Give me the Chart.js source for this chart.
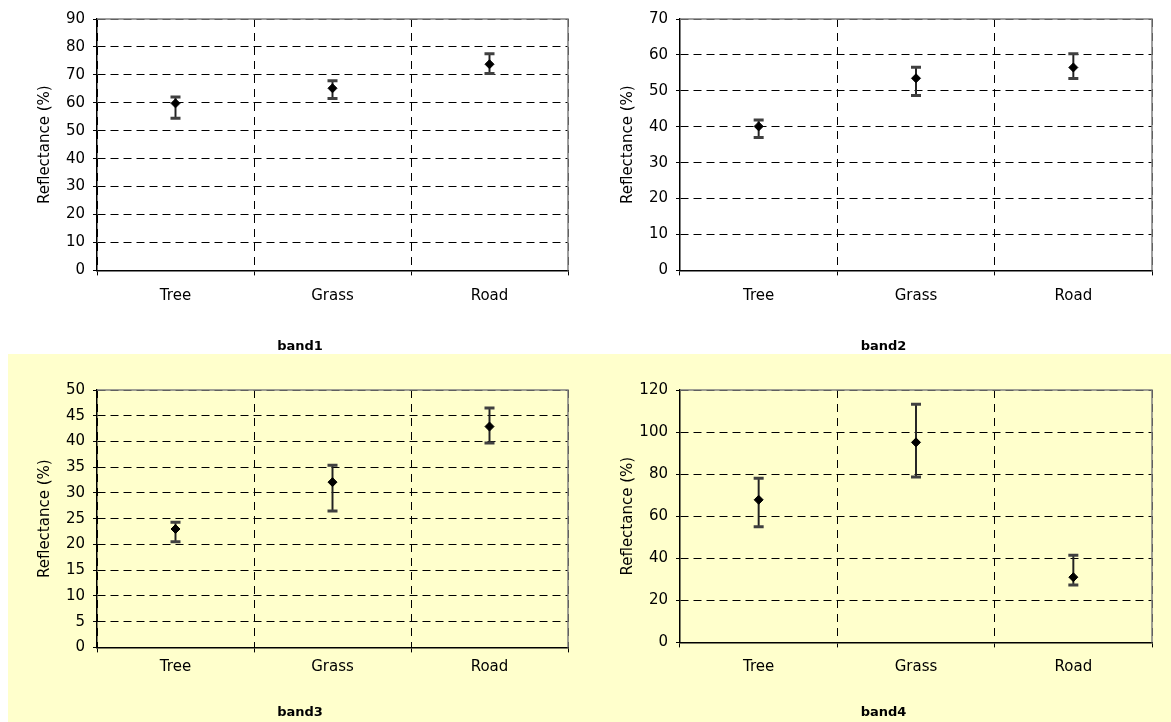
<!DOCTYPE html>
<html lang="en">
<head>
<meta charset="UTF-8">
<title>Reflectance by band</title>
<script src="https://cdn.jsdelivr.net/npm/chart.js"></script>
<style>
  * { box-sizing: border-box; margin: 0; padding: 0; }
  body { width: 1171px; height: 722px; background: #fff; position: relative; overflow: hidden; }
  .yellow { position: absolute; left: 8px; top: 354px; width: 1163px; height: 368px; background: #ffffcc; }
  canvas { position: absolute; }
</style>
</head>
<body>
<div class="yellow"></div>
<canvas id="c1" width="600" height="354" style="left:0;top:0"></canvas>
<canvas id="c2" width="579" height="354" style="left:592px;top:0"></canvas>
<canvas id="c3" width="584" height="368" style="left:8px;top:354px"></canvas>
<canvas id="c4" width="579" height="368" style="left:592px;top:354px"></canvas>
<script>
// data (mean, upper and lower error bar ends)
const categories = ['Tree', 'Grass', 'Road'];
const bandTitles = ['band1', 'band2', 'band3', 'band4'];
const yMax = [90, 70, 50, 120];
const yStep = [10, 10, 5, 20];

const band1Mean = [59.8, 65.2, 73.8];
const band1Upper = [62.1, 67.9, 77.6];
const band1Lower = [54.5, 61.5, 70.5];

const band2Mean = [40.1, 53.5, 56.5];
const band2Upper = [41.9, 56.6, 60.3];
const band2Lower = [37.0, 48.7, 53.4];

const band3Mean = [23.0, 32.1, 42.9];
const band3Upper = [24.3, 35.4, 46.5];
const band3Lower = [20.5, 26.5, 39.7];

const band4Mean = [67.8, 95.1, 31.0];
const band4Upper = [78.0, 113.2, 41.4];
const band4Lower = [55.0, 78.6, 27.3];

const means = [band1Mean, band2Mean, band3Mean, band4Mean];
const uppers = [band1Upper, band2Upper, band3Upper, band4Upper];
const lowers = [band1Lower, band2Lower, band3Lower, band4Lower];

// per-panel layout (canvas local px)
const panels = [
  { id: 'c1', pad: { left: 32, right: 32, top: 19, bottom: 0 }, xH: 50, tickPad: 12, titlePad: { top: 18, bottom: 0 } },
  { id: 'c2', pad: { left: 23, right: 19, top: 19, bottom: 0 }, xH: 50, tickPad: 12, titlePad: { top: 18, bottom: 0 } },
  { id: 'c3', pad: { left: 24, right: 24, top: 36, bottom: 2 }, xH: 45, tickPad: 6, titlePad: { top: 12, bottom: 0 } },
  { id: 'c4', pad: { left: 23, right: 19, top: 36, bottom: 2 }, xH: 50, tickPad: 11, titlePad: { top: 12, bottom: 0 } }
];

const FONT = 'DejaVu Sans';

// grey top/right frame of the plot area
const frame = {
  id: 'frame',
  beforeDatasetsDraw(chart) {
    const { ctx, chartArea: a } = chart;
    ctx.save();
    ctx.strokeStyle = '#808080';
    ctx.lineWidth = 1.5;
    ctx.beginPath();
    ctx.moveTo(a.left, a.top);
    ctx.lineTo(a.right, a.top);
    ctx.lineTo(a.right, a.bottom);
    ctx.stroke();
    ctx.restore();
  }
};

panels.forEach((p, i) => {
  const ranges = lowers[i].map((lo, k) => [lo, uppers[i][k]]);
  new Chart(document.getElementById(p.id), {
    type: 'bar',
    data: {
      labels: categories,
      datasets: [
        { type: 'bar', data: ranges, backgroundColor: '#222', borderWidth: 0, barThickness: 1.3, order: 3 },
        { type: 'line', data: uppers[i], showLine: false, pointStyle: 'line', pointRadius: 5, pointBorderWidth: 3, borderColor: '#404040', order: 2 },
        { type: 'line', data: lowers[i], showLine: false, pointStyle: 'line', pointRadius: 5, pointBorderWidth: 3, borderColor: '#404040', order: 2 },
        { type: 'line', data: means[i], showLine: false, pointStyle: 'rectRot', pointRadius: 4.5, pointBorderWidth: 1, backgroundColor: '#000', borderColor: '#000', order: 1 }
      ]
    },
    options: {
      responsive: false,
      animation: false,
      layout: { padding: p.pad },
      plugins: {
        legend: { display: false },
        tooltip: { enabled: false },
        title: {
          display: true, text: bandTitles[i], position: 'bottom', color: '#000',
          font: { family: FONT, size: 13, weight: 'bold' }, padding: p.titlePad
        }
      },
      scales: {
        x: {
          offset: true,
          afterFit: s => { s.height = p.xH; },
          grid: { offset: true, color: '#000', lineWidth: 1, tickLength: 5, tickColor: '#000', tickBorderDash: [] },
          border: { color: '#000', width: 1.5, dash: [8, 6] },
          ticks: { color: '#000', padding: p.tickPad, font: { family: FONT, size: 15 } }
        },
        y: {
          min: 0, max: yMax[i],
          afterFit: s => { s.width = 65; },
          grid: { color: '#000', lineWidth: 1, tickLength: 4, tickColor: '#000', tickBorderDash: [] },
          border: { color: '#000', width: 1.5, dash: [8, 5] },
          ticks: { stepSize: yStep[i], color: '#000', padding: 8, font: { family: FONT, size: 15 } },
          title: { display: true, text: 'Reflectance (%)', color: '#000', padding: { top: 4, bottom: 4 }, font: { family: FONT, size: 15 } }
        }
      }
    },
    plugins: [frame]
  });
});
</script>
</body>
</html>
